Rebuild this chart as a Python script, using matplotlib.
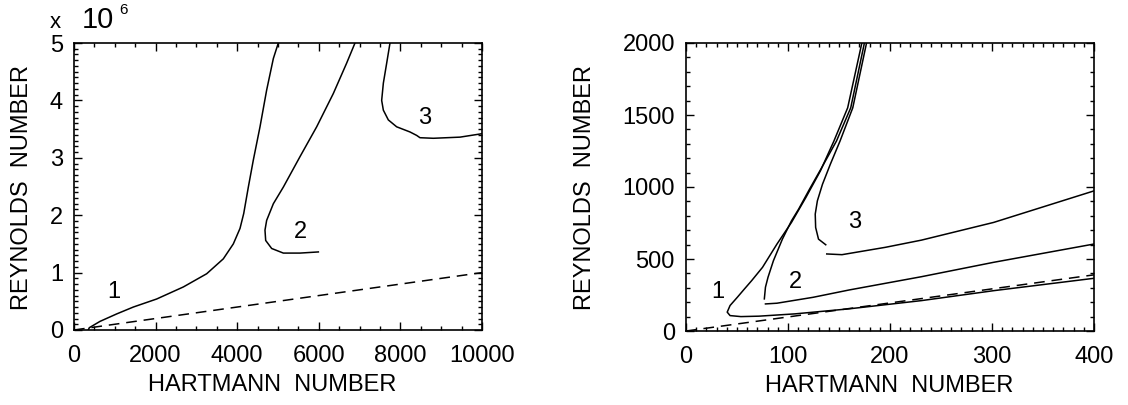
import matplotlib
matplotlib.use("Agg")
import matplotlib.pyplot as plt
from matplotlib.ticker import MultipleLocator

plt.rcParams['font.family'] = ['Liberation Sans', 'DejaVu Sans']

# ---------------- left panel (Reynolds in units of 10^6) ----------------
L1_x = [350, 375, 637, 1046, 1454, 2026, 2680, 3252, 3660, 3905, 4069, 4160, 4273, 4395, 4559, 4722, 4886, 5008]
L1_y = [0.0, 0.04, 0.15, 0.28, 0.40, 0.54, 0.75, 0.98, 1.24, 1.50, 1.77, 2.03, 2.49, 2.96, 3.54, 4.18, 4.73, 5.0]
L2_x = [5989, 5539, 5131, 4845, 4698, 4681, 4722, 4886, 5131, 5539, 5948, 6356, 6683, 6887]
L2_y = [1.36, 1.34, 1.34, 1.42, 1.56, 1.74, 1.91, 2.20, 2.49, 3.02, 3.54, 4.12, 4.65, 5.0]
L3_x = [7745, 7664, 7582, 7541, 7582, 7704, 7908, 8235, 8399, 8480, 8807, 9461, 10000]
L3_y = [5.0, 4.65, 4.30, 4.0, 3.83, 3.66, 3.54, 3.45, 3.39, 3.35, 3.34, 3.36, 3.42]
L_dash_x = [0, 10000]
L_dash_y = [0.0, 1.0]
L_labels = ["1", "2", "3"]
L_label_x = [964, 5539, 8603]
L_label_y = [0.66, 1.71, 3.69]

# ---------------- right panel ----------------
R1_x = [172.4, 158.5, 145.0, 131.7, 117.5, 103.4, 89.2, 75, 64.4, 57.3, 50.3, 43.2, 40.4, 43.2,
        53.8, 71.5, 106.9, 160, 230.8, 301.6, 400]
R1_y = [2000, 1550, 1319, 1111, 927, 754, 604, 442, 350, 292, 234, 177, 131, 107,
        100, 103, 119, 154, 211, 280, 366]
R2a_x = [174.9, 161.5, 147.5, 133, 121.1, 110.4, 103.4, 94.5, 85.7, 80.4, 77.9, 76.8]
R2a_y = [2000, 1550, 1319, 1134, 985, 846, 765, 638, 488, 373, 304, 223]
R2b_x = [77.9, 89.2, 124.6, 160, 230.8, 301.6, 400]
R2b_y = [188, 193, 234, 285, 377, 477, 604]
R3a_x = [177, 163.5, 151.0, 141.5, 133.8, 128.8, 126.7, 127.1, 129.9, 137]
R3a_y = [2000, 1550, 1319, 1158, 1019, 904, 812, 719, 638, 599]
R3b_x = [138, 152.9, 195.4, 230.8, 301.6, 400]
R3b_y = [535, 530, 581, 631, 754, 973]
R_dash_x = [0, 400]
R_dash_y = [0, 390]
R_labels = ["1", "2", "3"]
R_label_x = [30.8, 107.6, 165.3]
R_label_y = [269, 338, 754]

FS = 17
FSL = 17
fig = plt.figure(figsize=(11.28, 4.05), dpi=100)
axL = fig.add_axes([74/1128, 75/405, 408/1128, 287/405])
axR = fig.add_axes([686/1128, 74/405, 408/1128, 288/405])

lw = 1.1
dash = (0, (7, 4.5))

def style(ax, xmaj, xmin, ymaj, ymin):
    ax.xaxis.set_major_locator(MultipleLocator(xmaj))
    ax.xaxis.set_minor_locator(MultipleLocator(xmin))
    ax.yaxis.set_major_locator(MultipleLocator(ymaj))
    ax.yaxis.set_minor_locator(MultipleLocator(ymin))
    ax.tick_params(which='both', direction='in', top=True, right=True, width=1.0, labelsize=FS)
    ax.tick_params(which='major', length=6)
    ax.tick_params(which='minor', length=3)
    ax.tick_params(axis='x', pad=11)
    ax.tick_params(axis='y', pad=8)
    for s in ax.spines.values():
        s.set_linewidth(1.2)

# left
axL.plot(L1_x, L1_y, color='black', lw=lw)
axL.plot(L2_x, L2_y, color='black', lw=lw)
axL.plot(L3_x, L3_y, color='black', lw=lw)
axL.plot(L_dash_x, L_dash_y, color='black', lw=lw, linestyle=dash)
for t, x, y in zip(L_labels, L_label_x, L_label_y):
    axL.text(x, y, t, fontsize=FS, ha='center', va='center')
axL.set_xlim(0, 10000)
axL.set_ylim(0, 5.0)
style(axL, 2000, 500, 1, 0.1)
axL.text(0.485, -0.19, "HARTMANN  NUMBER", transform=axL.transAxes, fontsize=FSL, ha='center', va='center')
axL.text(-0.127, 0.498, "REYNOLDS  NUMBER", transform=axL.transAxes, fontsize=FSL, ha='center', va='center', rotation=90)
fig.text(50/1128, 1 - 28/405, "x", fontsize=16, ha='left', va='baseline')
fig.text(82/1128, 1 - 28/405, "10", fontsize=21, ha='left', va='baseline')
fig.text(119/1128, 1 - 14/405, "6", fontsize=11, ha='left', va='baseline')

# right
axR.plot(R1_x, R1_y, color='black', lw=lw)
axR.plot(R2a_x, R2a_y, color='black', lw=lw)
axR.plot(R2b_x, R2b_y, color='black', lw=lw)
axR.plot(R3a_x, R3a_y, color='black', lw=lw)
axR.plot(R3b_x, R3b_y, color='black', lw=lw)
axR.plot(R_dash_x, R_dash_y, color='black', lw=lw, linestyle=dash)
for t, x, y in zip(R_labels, R_label_x, R_label_y):
    axR.text(x, y, t, fontsize=FS, ha='center', va='center')
axR.set_xlim(0, 400)
axR.set_ylim(0, 2000)
style(axR, 100, 10, 500, 100)
axR.text(0.497, -0.19, "HARTMANN  NUMBER", transform=axR.transAxes, fontsize=FSL, ha='center', va='center')
axR.text(-0.248, 0.5, "REYNOLDS  NUMBER", transform=axR.transAxes, fontsize=FSL, ha='center', va='center', rotation=90)

fig.savefig("out.png", dpi=100)
